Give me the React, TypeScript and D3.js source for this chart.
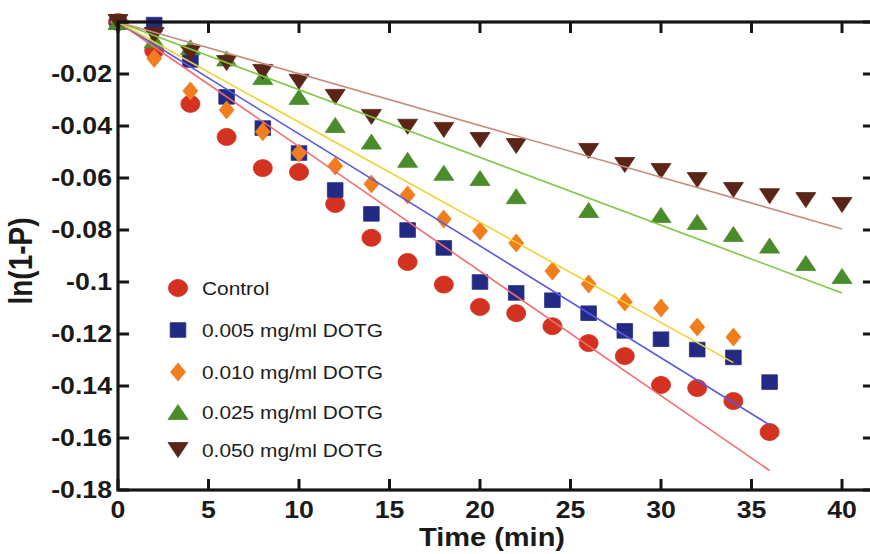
import React from "react";
import * as d3 from "d3";

// Sampling times (min) and ln(1-P) readings for each treatment
const tControl = [0, 2, 4, 6, 8, 10, 12, 14, 16, 18, 20, 22, 24, 26, 28, 30, 32, 34, 36];
const vControl = [0, -0.011, -0.0315, -0.0442, -0.0562, -0.0577, -0.07, -0.083, -0.0923, -0.101, -0.1096, -0.112, -0.117, -0.1235, -0.1285, -0.1396, -0.1408, -0.1458, -0.1577];

const t005 = [0, 2, 4, 6, 8, 10, 12, 14, 16, 18, 20, 22, 24, 26, 28, 30, 32, 34, 36];
const v005 = [0, -0.001, -0.0146, -0.0288, -0.0408, -0.0504, -0.0646, -0.0738, -0.08, -0.0869, -0.1, -0.1042, -0.107, -0.112, -0.1188, -0.122, -0.126, -0.129, -0.1385];

const t010 = [0, 2, 4, 6, 8, 10, 12, 14, 16, 18, 20, 22, 24, 26, 28, 30, 32, 34];
const v010 = [0, -0.014, -0.0265, -0.0338, -0.0422, -0.0504, -0.0554, -0.0623, -0.0665, -0.0758, -0.0804, -0.085, -0.0958, -0.1008, -0.1077, -0.11, -0.1173, -0.1212];

const t025 = [0, 2, 4, 6, 8, 10, 12, 14, 16, 18, 20, 22, 26, 30, 32, 34, 36, 38, 40];
const v025 = [0, -0.007, -0.0097, -0.014, -0.0212, -0.0288, -0.0396, -0.046, -0.053, -0.058, -0.06, -0.067, -0.0723, -0.0742, -0.0769, -0.0815, -0.086, -0.0927, -0.0977];

const t050 = [0, 2, 4, 6, 8, 10, 12, 14, 16, 18, 20, 22, 26, 28, 30, 32, 34, 36, 38, 40];
const v050 = [0, -0.005, -0.012, -0.0158, -0.0192, -0.023, -0.0288, -0.0365, -0.0403, -0.0415, -0.0454, -0.0477, -0.0496, -0.055, -0.0573, -0.0608, -0.0646, -0.067, -0.0685, -0.0704];

// Linear fit lines: [t, value] at start and end
const fitControl = [[0, 0], [36, -0.1725]];
const fit005 = [[0, 0], [36, -0.155]];
const fit010 = [[0, 0], [34, -0.131]];
const fit025 = [[0, 0], [40, -0.1042]];
const fit050 = [[0, 0], [40, -0.0796]];

const seriesNames = ["Control", "0.005 mg/ml DOTG", "0.010 mg/ml DOTG", "0.025 mg/ml DOTG", "0.050 mg/ml DOTG"];

const xTicks = [0, 5, 10, 15, 20, 25, 30, 35, 40];
const yTicks = [0, -0.02, -0.04, -0.06, -0.08, -0.1, -0.12, -0.14, -0.16, -0.18];
const yTickLabels = ["", "-0.02", "-0.04", "-0.06", "-0.08", "-0.1", "-0.12", "-0.14", "-0.16", "-0.18"];

type Shape = "circle" | "square" | "diamond" | "up" | "down";

const series = [
  { name: seriesNames[0], t: tControl, v: vControl, fit: fitControl, shape: "circle" as Shape, fill: "#d2321f", line: "#f36b6b" },
  { name: seriesNames[1], t: t005, v: v005, fit: fit005, shape: "square" as Shape, fill: "#232a84", line: "#5a5ae0" },
  { name: seriesNames[2], t: t010, v: v010, fit: fit010, shape: "diamond" as Shape, fill: "#f17d1c", line: "#f2d232" },
  { name: seriesNames[3], t: t025, v: v025, fit: fit025, shape: "up" as Shape, fill: "#4b8c2a", line: "#7cc843" },
  { name: seriesNames[4], t: t050, v: v050, fit: fit050, shape: "down" as Shape, fill: "#5a2416", line: "#c88d7c" },
];

const SX = 1.16; // horizontal stretch of glyphs

function markerPath(shape: Shape, cx: number, cy: number): string {
  const p = d3.path();
  if (shape === "circle") {
    const rx = 9.5, ry = 8.5;
    const n = 24;
    for (let i = 0; i <= n; i++) {
      const a = (i / n) * Math.PI * 2;
      const px = cx + rx * Math.cos(a);
      const py = cy + ry * Math.sin(a);
      if (i === 0) p.moveTo(px, py);
      else p.lineTo(px, py);
    }
    p.closePath();
  } else if (shape === "square") {
    const hw = 7.8, hh = 7.3;
    p.rect(cx - hw, cy - hh, hw * 2, hh * 2);
  } else if (shape === "diamond") {
    const hw = 7.5, hh = 9;
    p.moveTo(cx, cy - hh);
    p.lineTo(cx + hw, cy);
    p.lineTo(cx, cy + hh);
    p.lineTo(cx - hw, cy);
    p.closePath();
  } else if (shape === "up") {
    const hw = 10, hh = 7.5;
    p.moveTo(cx, cy - hh);
    p.lineTo(cx + hw, cy + hh);
    p.lineTo(cx - hw, cy + hh);
    p.closePath();
  } else {
    const hw = 10, hh = 7.5;
    p.moveTo(cx - hw, cy - hh);
    p.lineTo(cx + hw, cy - hh);
    p.lineTo(cx, cy + hh);
    p.closePath();
  }
  return p.toString();
}

export default function App() {
  const width = 870;
  const height = 554;
  const left = 118;
  const right = 874;
  const top = 22;
  const bottom = 490;

  const x = d3.scaleLinear().domain([0, 40]).range([left, 842]);
  const y = d3.scaleLinear().domain([0, -0.18]).range([top, bottom]);
  const line = d3.line<number[]>().x((d) => x(d[0])).y((d) => y(d[1]));

  const font = "'Liberation Sans', Arial, Helvetica, sans-serif";
  const axisColor = "#151515";
  const tickLen = 11;

  const legendX = 178;
  const legendY = [288, 330, 372, 412, 450];

  return (
    <svg
      width={width}
      height={height}
      style={{ position: "absolute", left: 0, top: 0, display: "block", background: "#fff" }}
      fontFamily={font}
    >
      {/* data markers */}
      {series.map((s, si) => (
        <g key={"m" + si} fill={s.fill} stroke={s.fill} strokeWidth={0.8} strokeLinejoin="round">
          {s.t.map((t, i) => (
            <path key={i} d={markerPath(s.shape, x(t), y(s.v[i]))} />
          ))}
        </g>
      ))}

      {/* fit lines */}
      {series.map((s, si) => (
        <path key={"l" + si} d={line(s.fit) || ""} fill="none" stroke={s.line} strokeWidth={1.6} />
      ))}

      {/* frame */}
      <rect x={left} y={top} width={right - left} height={bottom - top} fill="none" stroke={axisColor} strokeWidth={3.2} />

      {/* x ticks top and bottom */}
      {xTicks.map((t) => (
        <g key={"xt" + t}>
          <line x1={x(t)} x2={x(t)} y1={bottom} y2={bottom - tickLen} stroke={axisColor} strokeWidth={3} />
          <line x1={x(t)} x2={x(t)} y1={top} y2={top + tickLen} stroke={axisColor} strokeWidth={3} />
          <text
            transform={`translate(${x(t)},${518}) scale(${SX},1)`}
            textAnchor="middle"
            fontSize={23}
            fontWeight="bold"
            fill="#1a1a1a"
          >
            {String(t)}
          </text>
        </g>
      ))}

      {/* y ticks left and right */}
      {yTicks.map((v, i) => (
        <g key={"yt" + i}>
          <line x1={left} x2={left + tickLen} y1={y(v)} y2={y(v)} stroke={axisColor} strokeWidth={3} />
          <line x1={right} x2={right - tickLen} y1={y(v)} y2={y(v)} stroke={axisColor} strokeWidth={3} />
          {yTickLabels[i] && (
            <text
              transform={`translate(${112},${y(v) + 8}) scale(${SX},1)`}
              textAnchor="end"
              fontSize={23}
              fontWeight="bold"
              fill="#1a1a1a"
            >
              {yTickLabels[i]}
            </text>
          )}
        </g>
      ))}

      {/* axis titles */}
      <text
        transform={`translate(${492},${546}) scale(${SX},1)`}
        textAnchor="middle"
        fontSize={25}
        fontWeight="bold"
        fill="#1a1a1a"
      >
        Time (min)
      </text>
      <text
        transform={`translate(${32},${261}) rotate(-90) scale(1,${SX})`}
        textAnchor="middle"
        fontSize={28}
        fontWeight="bold"
        fill="#1a1a1a"
      >
        ln(1-P)
      </text>

      {/* legend */}
      {series.map((s, si) => (
        <g key={"lg" + si}>
          <path
            d={markerPath(s.shape, legendX, legendY[si])}
            fill={s.fill}
            stroke={s.fill}
            strokeWidth={0.8}
            strokeLinejoin="round"
          />
          <text
            transform={`translate(${202},${legendY[si] + 7}) scale(${SX},1)`}
            fontSize={18}
            fill="#1c1c1c"
          >
            {s.name}
          </text>
        </g>
      ))}
    </svg>
  );
}
